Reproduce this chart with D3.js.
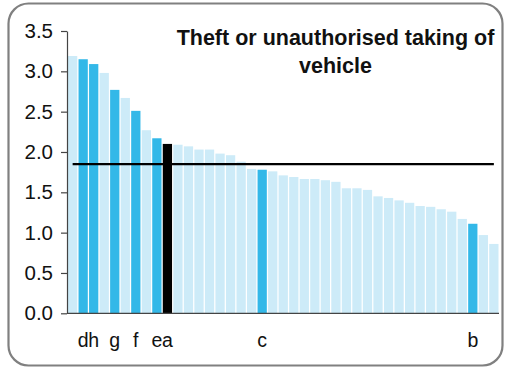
<!DOCTYPE html>
<html>
<head>
<meta charset="utf-8">
<script src="https://cdn.jsdelivr.net/npm/d3@7"></script>
<style>
  html, body { margin: 0; padding: 0; background: #fff; }
  svg { display: block; }
</style>
</head>
<body>
<svg id="chart" width="505" height="369"></svg>
<script>
// ---- data ----
const values = [3.19, 3.15, 3.09, 2.98, 2.77, 2.67, 2.51, 2.27, 2.17, 2.10,
                2.09, 2.07, 2.03, 2.03, 1.98, 1.96, 1.88, 1.79, 1.78, 1.76,
                1.71, 1.69, 1.665, 1.665, 1.65, 1.63, 1.55, 1.55, 1.53, 1.45,
                1.43, 1.40, 1.37, 1.33, 1.32, 1.29, 1.26, 1.17, 1.11, 0.97, 0.86];
// highlight type per bar: 0 = other, 1 = highlighted, 2 = selected
const highlight = [0, 1, 1, 0, 1, 0, 1, 0, 1, 2,
                   0, 0, 0, 0, 0, 0, 0, 0, 1, 0,
                   0, 0, 0, 0, 0, 0, 0, 0, 0, 0,
                   0, 0, 0, 0, 0, 0, 0, 0, 1, 0, 0];
const labels = ["", "d", "h", "", "g", "", "f", "", "e", "a",
                "", "", "", "", "", "", "", "", "c", "",
                "", "", "", "", "", "", "", "", "", "",
                "", "", "", "", "", "", "", "", "b", "", ""];
const average = 1.85;
const yTicks = [0, 0.5, 1.0, 1.5, 2.0, 2.5, 3.0, 3.5];
const titleLines = ["Theft or unauthorised taking of", "vehicle"];

// ---- drawing ----
const colors = ["#cdebf8", "#33b8e8", "#000000"];
const svg = d3.select("#chart");

svg.append("rect")
  .attr("x", 8.5).attr("y", 3.5)
  .attr("width", 494).attr("height", 362)
  .attr("rx", 20).attr("ry", 20)
  .attr("fill", "#fff")
  .attr("stroke", "#808080")
  .attr("stroke-width", 2.2);

const x = d3.scaleBand()
  .domain(d3.range(values.length))
  .range([68, 498.5])
  .paddingInner(0.12)
  .paddingOuter(0);

const y = d3.scaleLinear().domain([0, 3.5]).range([313.3, 31]);

svg.append("g").selectAll("rect")
  .data(values)
  .join("rect")
  .attr("x", (d, i) => x(i))
  .attr("width", x.bandwidth())
  .attr("y", d => y(d))
  .attr("height", d => y(0) - y(d))
  .attr("fill", (d, i) => colors[highlight[i]]);

// average line
svg.append("line")
  .attr("x1", x(0) + x.bandwidth() / 2)
  .attr("x2", x(values.length - 1) + x.bandwidth() / 2)
  .attr("y1", y(average)).attr("y2", y(average))
  .attr("stroke", "#000").attr("stroke-width", 2.3);

// y axis
const yAxis = d3.axisLeft(y).tickValues(yTicks).tickFormat(d3.format(".1f"))
  .tickSize(6).tickSizeOuter(0).tickPadding(8);
const gy = svg.append("g").attr("transform", "translate(67,0)").call(yAxis);
gy.select(".domain").attr("stroke", "#444").attr("stroke-width", 1.2);
gy.selectAll(".tick line").attr("stroke", "#444").attr("stroke-width", 1.2);
gy.selectAll(".tick text")
  .attr("font-family", "Liberation Sans, Arial, sans-serif")
  .attr("font-size", 20.5).attr("fill", "#111");

// x baseline
svg.append("line")
  .attr("x1", 67).attr("x2", 499)
  .attr("y1", y(0)).attr("y2", y(0))
  .attr("stroke", "#444").attr("stroke-width", 1.2);

// category labels
svg.append("g").selectAll("text")
  .data(labels)
  .join("text")
  .attr("x", (d, i) => x(i) + x.bandwidth() / 2)
  .attr("y", 346.5)
  .attr("text-anchor", "middle")
  .attr("font-family", "Liberation Sans, Arial, sans-serif")
  .attr("font-size", 19.5)
  .attr("fill", "#111")
  .text(d => d);

// title
svg.append("g").selectAll("text")
  .data(titleLines)
  .join("text")
  .attr("x", 335.5)
  .attr("y", (d, i) => 44.5 + i * 28)
  .attr("text-anchor", "middle")
  .attr("font-family", "Liberation Sans, Arial, sans-serif")
  .attr("font-weight", "bold")
  .attr("font-size", 21.5)
  .attr("fill", "#111")
  .text(d => d);
</script>
</body>
</html>
